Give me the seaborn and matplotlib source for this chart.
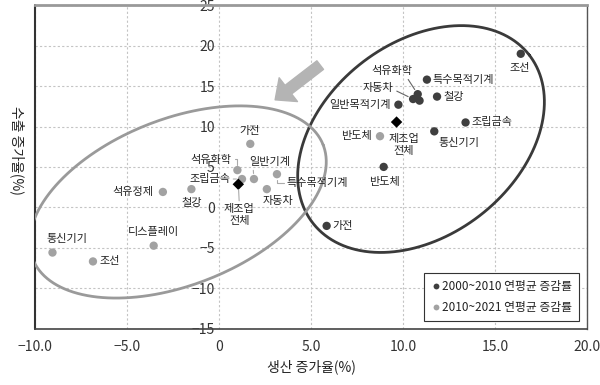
import numpy as np
import pandas as pd
import seaborn as sns
import matplotlib.pyplot as plt

# 2000~2010 annual average growth (production %, export %)
names_0010 = ['조선', '특수목적기계', '석유화학', '자동차', '', '철강', '일반목적기계',
              '조립금속', '통신기기', '반도체', '가전']
prod_0010 = [16.4, 11.3, 10.8, 10.55, 10.9, 11.85, 9.75, 13.4, 11.7, 8.95, 5.85]
export_0010 = [19.0, 15.8, 14.0, 13.4, 13.2, 13.7, 12.7, 10.5, 9.4, 5.0, -2.3]

# 2010~2021 annual average growth
names_1021 = ['반도체', '가전', '석유화학', '조립금속', '일반기계', '특수목적기계', '자동차',
              '석유정제', '철강', '디스플레이', '통신기기', '조선']
prod_1021 = [8.75, 1.7, 1.0, 1.25, 1.9, 3.15, 2.6, -3.05, -1.5, -3.55, -9.05, -6.85]
export_1021 = [8.8, 7.85, 4.6, 3.5, 3.5, 4.1, 2.25, 1.9, 2.25, -4.75, -5.6, -6.7]

# manufacturing total (제조업 전체)
total_prod = [9.65, 1.05]
total_export = [10.55, 2.85]

periods = ['2000~2010 연평균 증감률', '2010~2021 연평균 증감률']
colors = ['#3f3f3f', '#a2a2a2']

xticks = [-10, -5, 0, 5, 10, 15, 20]
xticklabels = ['\u221210.0', '\u22125.0', '0', '5.0', '10.0', '15.0', '20.0']
yticks = [25, 20, 15, 10, 5, 0, -5, -10, -15]

sns.set_theme(style='white')
plt.rcParams['font.family'] = ['Noto Sans CJK KR', 'DejaVu Sans']
plt.rcParams['text.color'] = '#222222'

df = pd.DataFrame({
    'name': names_0010 + names_1021,
    'prod': prod_0010 + prod_1021,
    'export': export_0010 + export_1021,
    'period': [periods[0]] * len(names_0010) + [periods[1]] * len(names_1021),
})

fig = plt.figure(figsize=(6, 3.85), dpi=100)
ax = fig.add_axes([35 / 600, 56.5 / 385, 552 / 600, 323.2 / 385])
ax.set_xlim(-10, 20)
ax.set_ylim(-15, 25)

# pixels per data unit, used for the ellipses
sx = 552 / 30
sy = 323.2 / 40


def ellipse(cx, cy, a, b, ang, color):
    t = np.linspace(0, 2 * np.pi, 300)
    th = np.radians(ang)
    px = a * np.cos(t) * np.cos(th) - b * np.sin(t) * np.sin(th)
    py = a * np.cos(t) * np.sin(th) + b * np.sin(t) * np.cos(th)
    ax.plot(cx + px / sx, cy + py / sy, color=color, lw=2, zorder=2)


ellipse(10.98, 8.45, 137, 96.5, 37.8, '#3a3a3a')
ellipse(-2.23, 0.66, 156, 83, 21.5, '#9a9a9a')

sns.scatterplot(data=df, x='prod', y='export', hue='period', hue_order=periods,
                palette=colors, s=36, edgecolor='none', linewidth=0, ax=ax, zorder=3)
sns.scatterplot(x=total_prod, y=total_export, marker='D', s=34, color='black',
                edgecolor='none', legend=False, ax=ax, zorder=4)

# big gray arrow pointing to the lower-left cluster
ax.annotate('', xy=(3.05, 13.3), xytext=(5.5, 17.6),
            arrowprops=dict(arrowstyle='simple,head_length=1.0,head_width=1.8,tail_width=0.65',
                            mutation_scale=12, color='#b4b4b4', shrinkA=0, shrinkB=0), zorder=2)

# label placement: (dx px, dy px, ha, leader)
lab_0010 = {
    '조선': (-1, -14, 'center', None),
    '특수목적기계': (6, 0, 'left', None),
    '철강': (6, 0, 'left', None),
    '조립금속': (6, 0, 'left', None),
    '통신기기': (4, -11.5, 'left', None),
    '일반목적기계': (-8, 0, 'right', None),
    '반도체': (1, -15, 'center', None),
    '가전': (6, 0, 'left', None),
    '석유화학': (-26, 23, 'center', ((0.85, 0), 'arc3')),
    '자동차': (-35, 11, 'center', ((1, 0.35), 'arc3')),
}
lab_1021 = {
    '반도체': (-8, 0, 'right', None),
    '가전': (-1, 13, 'center', None),
    '석유화학': (-6, 10, 'right', ((1, 0.6), 'angle,angleA=0,angleB=90,rad=0')),
    '조립금속': (-12, 0, 'right', ((1, 0.5), 'arc3')),
    '일반기계': (-5, 17, 'left', ((0.1, 0), 'arc3')),
    '특수목적기계': (10, -9, 'left', ((0, 0.5), 'angle,angleA=0,angleB=90,rad=0')),
    '자동차': (-4, -12, 'left', None),
    '석유정제': (-9, 0, 'right', None),
    '철강': (0, -14, 'center', None),
    '디스플레이': (0, 14, 'center', None),
    '통신기기': (-6, 14, 'left', None),
    '조선': (7, 0, 'left', None),
}


def put_labels(names, xs, ys, spec, lc):
    for n, x, y in zip(names, xs, ys):
        if n not in spec:
            continue
        dx, dy, ha, leader = spec[n]
        ap = None
        if leader is not None:
            ap = dict(arrowstyle='-', color=lc, lw=0.8, shrinkA=0, shrinkB=4,
                      relpos=leader[0], connectionstyle=leader[1])
        ax.annotate(n, xy=(x, y), xytext=(dx, dy), textcoords='offset pixels',
                    ha=ha, va='center', fontsize=8, arrowprops=ap, zorder=5)


put_labels(names_0010, prod_0010, export_0010, lab_0010, '#666666')
put_labels(names_1021, prod_1021, export_1021, lab_1021, '#aaaaaa')

ax.annotate('제조업\n전체', xy=(total_prod[0], total_export[0]), xytext=(7, -23),
            textcoords='offset pixels', ha='center', va='center', fontsize=8,
            linespacing=1.3, zorder=5)
ax.annotate('제조업\n전체', xy=(total_prod[1], total_export[1]), xytext=(1, -31),
            textcoords='offset pixels', ha='center', va='center', fontsize=8,
            linespacing=1.3, zorder=5,
            arrowprops=dict(arrowstyle='-', color='#aaaaaa', lw=0.8, shrinkA=0, shrinkB=4,
                            relpos=(0.5, 1)))

# axes styling
ax.set_xticks(xticks)
ax.set_xticklabels(xticklabels)
ax.set_yticks(yticks)
ax.grid(True, color='#c4c4c4', linestyle=(0, (2, 2)), linewidth=0.8)
ax.set_axisbelow(True)
ax.spines['left'].set_position(('data', 0))
ax.spines['left'].set_visible(False)
ax.axvline(-10, color='#333333', lw=1.5, clip_on=False, zorder=1)
ax.spines['bottom'].set_color('#444444')
ax.spines['bottom'].set_linewidth(1.2)
ax.spines['right'].set_color('#555555')
ax.spines['right'].set_linewidth(1.0)
ax.spines['top'].set_color('#999999')
ax.spines['top'].set_linewidth(2)
ax.tick_params(axis='y', length=0, pad=3, labelsize=10, labelcolor='#333333')
ax.tick_params(axis='x', length=0, pad=8, labelsize=10, labelcolor='#333333')

ax.set_xlabel('생산 증가율(%)', fontsize=10, labelpad=4, color='#222222')
ax.set_ylabel('수출 증가율(%)', fontsize=10, rotation=270, color='#222222')
ax.yaxis.set_label_coords(-0.045, 0.55)

handles, labels = ax.get_legend_handles_labels()
leg = ax.legend(handles, labels, loc='lower right', bbox_to_anchor=(0.9855, 0.023),
                borderaxespad=0, frameon=True, fancybox=False, fontsize=8.5,
                markerscale=0.7, handletextpad=0.1, handlelength=0.8,
                borderpad=0.6, labelspacing=0.65)
leg.get_frame().set_edgecolor('#333333')
leg.get_frame().set_linewidth(0.8)
leg.get_frame().set_alpha(1)

fig.savefig('out.png', dpi=100)
